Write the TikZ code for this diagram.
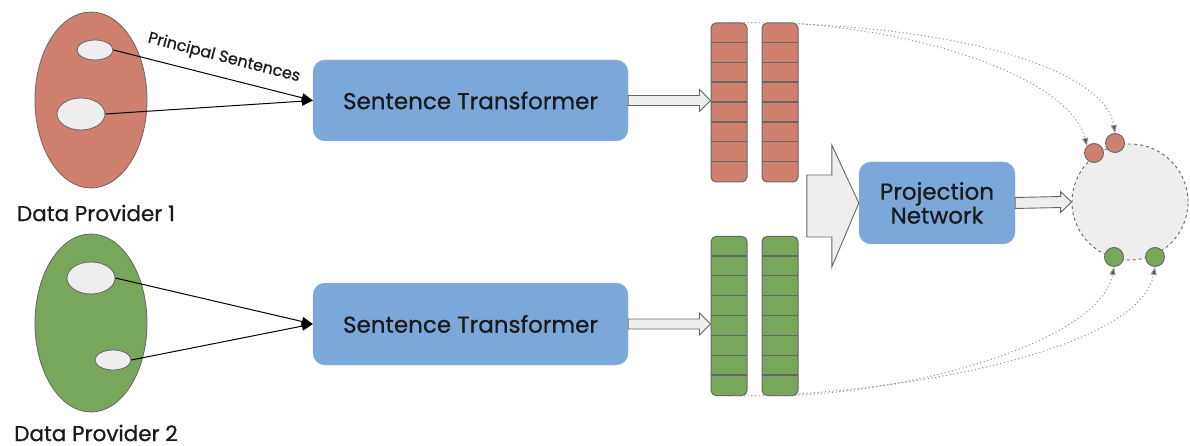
\documentclass[tikz,border=0pt]{standalone}
\usepackage{fontspec}
\setmainfont{Poppins}[FakeBold=0.7]
\usetikzlibrary{shapes.geometric,arrows.meta,calc}
\definecolor{redf}{HTML}{D0806E}
\definecolor{greenf}{HTML}{78A65A}
\definecolor{bluef}{HTML}{7BA7D9}
\definecolor{lgray}{HTML}{EEEEEE}
\definecolor{edge}{HTML}{666666}
\definecolor{txt}{HTML}{1A1A1A}
\tikzset{
  provider/.style={ellipse, draw=edge, line width=0.8pt, inner sep=0pt},
  item/.style={ellipse, draw=edge, fill=lgray, line width=0.8pt, inner sep=0pt},
  bluebox/.style={rectangle, rounded corners=12pt, fill=bluef, draw=bluef!85!white, inner sep=0pt, text=txt, font=\fontsize{23}{27}\selectfont, align=center},
  vec/.style={rectangle, rounded corners=5pt, draw=edge, line width=1pt, minimum width=36pt, minimum height=159pt, inner sep=0pt},
  cellline/.style={draw=edge, line width=1.4pt},
  hollow/.style={draw=edge, fill=lgray, line width=0.9pt, line join=miter},
  feed/.style={draw=black, line width=1pt, -{Triangle[length=11pt,width=9pt]}},
  dotline/.style={draw=gray!85, line width=1pt, dash pattern=on 1.1pt off 2.6pt, -{Triangle[length=8pt,width=6pt,fill=edge!80!black]}},
  smallc/.style={circle, draw=edge, line width=0.9pt, minimum size=19pt, inner sep=0pt},
  lab/.style={text=txt, font=\fontsize{21.5}{25}\selectfont}
}
\begin{document}
\begin{tikzpicture}[x=1pt,y=-1pt]
\useasboundingbox[fill=white] (0,0) rectangle (1190,446);

% providers
\node[provider, fill=redf, minimum width=112pt, minimum height=176pt] (p1) at (91,100) {};
\node[item, minimum width=36pt, minimum height=20pt] (p1a) at (95,50) {};
\node[item, minimum width=48pt, minimum height=32pt] (p1b) at (81,114) {};
\node[lab] (l1) at (96,213) {Data Provider 1};

\node[provider, fill=greenf, minimum width=112pt, minimum height=178pt] (p2) at (91,323) {};
\node[item, minimum width=48pt, minimum height=32pt] (p2a) at (91,278) {};
\node[item, minimum width=36pt, minimum height=20pt] (p2b) at (113,360) {};
\node[lab] (l2) at (96,433) {Data Provider 2};

% sentence transformers
\node[bluebox, minimum width=315pt, minimum height=81pt] (st1) at (470.5,100.5) {Sentence Transformer};
\node[bluebox, minimum width=315pt, minimum height=82pt] (st2) at (470.5,324) {Sentence Transformer};

% feed arrows
\draw[feed] (p1a.east) -- (st1.west);
\draw[feed] (p1b.east) -- (st1.west);
\draw[feed] (p2a.east) -- (st2.west);
\draw[feed] (p2b.east) -- (st2.west);
\node[text=txt, font=\fontsize{16}{19}\selectfont, rotate=-14.5] (ps) at (224,58) {Principal Sentences};

% vectors
\node[vec, fill=redf] (v1a) at (729,102.5) {};
\node[vec, fill=redf] (v1b) at (780,102.5) {};
\node[vec, fill=greenf] (v2a) at (729,316) {};
\node[vec, fill=greenf] (v2b) at (780,316) {};
\foreach \v in {v1a,v1b,v2a,v2b}{
  \foreach \i in {1,...,7}{
    \draw[cellline] ($(\v.north west)+(0.5,\i*19.875)$) -- ($(\v.north east)+(-0.5,\i*19.875)$);
  }
}

% hollow arrows ST -> vectors
\foreach \s/\v in {st1/v1a, st2/v2a}{
  \coordinate (as) at (\s.east);
  \coordinate (at) at (\v.west |- \s.east);
  \draw[hollow] ($(as)+(0,-5)$) -- ($(at)+(-11,-5)$) -- ($(at)+(-11,-11)$) -- (at)
     -- ($(at)+(-11,11)$) -- ($(at)+(-11,5)$) -- ($(as)+(0,5)$) -- cycle;
}

% projection network
\node[bluebox, minimum width=156pt, minimum height=82pt] (pn) at (937,203) {Projection\\[-3pt]Network};

% big hollow arrow
\coordinate (bt) at (pn.west);
\draw[hollow] ($(bt)+(-52,-28)$) -- ($(bt)+(-27,-28)$) -- ($(bt)+(-27,-58)$) -- (bt)
   -- ($(bt)+(-27,64)$) -- ($(bt)+(-27,34)$) -- ($(bt)+(-52,34)$) -- cycle;

% embedding space
\node[circle, draw=edge, fill=lgray, dashed, line width=0.9pt, minimum size=116pt, inner sep=0pt] (sp) at (1130,202) {};

% arrow PN -> space
\coordinate (ps1) at (pn.east);
\coordinate (pt1) at (sp.west);
\draw[hollow] ($(ps1)+(0,-5.5)$) -- ($(pt1)+(-11,-5.5)$) -- ($(pt1)+(-11,-10.5)$) -- (pt1)
   -- ($(pt1)+(-11,10.5)$) -- ($(pt1)+(-11,5.5)$) -- ($(ps1)+(0,5.5)$) -- cycle;

% small circles
\node[smallc, fill=redf] (r1) at (1094,153) {};
\node[smallc, fill=redf] (r2) at (1115,143) {};
\node[smallc, fill=greenf] (g1) at (1114,257) {};
\node[smallc, fill=greenf] (g2) at (1155,257) {};

% dotted curves
\draw[dotline] (v1a.north) .. controls (960,22) and (1105,70) .. (r2.north);
\draw[dotline] (v1b.north) .. controls (930,30) and (1070,80) .. (r1.north west);
\draw[dotline] (v2a.south) .. controls (900,396) and (1140,350) .. (g2.south);
\draw[dotline] (v2b.south) .. controls (920,392) and (1100,340) .. (g1.south);
\end{tikzpicture}
\end{document}
